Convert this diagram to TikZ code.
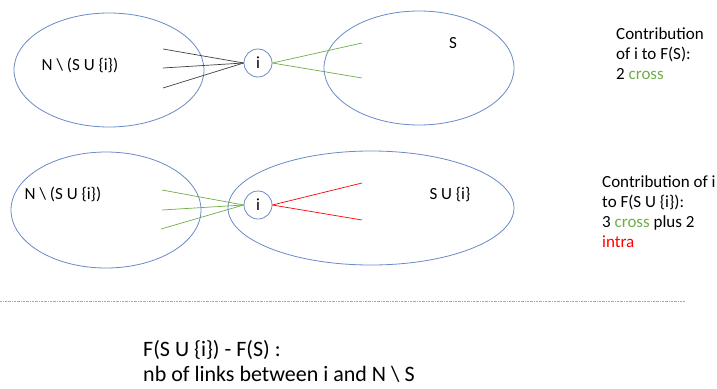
\documentclass[tikz,border=0pt]{standalone}
\usepackage{fontspec}
\setmainfont{Carlito}
\usetikzlibrary{shapes.geometric}
\definecolor{setblue}{HTML}{6A8AC6}
\definecolor{crossgreen}{HTML}{70AD47}
\definecolor{intrared}{HTML}{FF0000}
\definecolor{linkgray}{HTML}{404040}
\definecolor{dotblue}{HTML}{8FAADC}
\begin{document}
\begin{tikzpicture}[x=1pt,y=-1pt,
  setell/.style={draw=setblue,line width=0.8pt,ellipse,inner sep=0pt},
  vertex/.style={draw=setblue,line width=0.8pt,circle,minimum size=28pt,inner sep=0pt,font=\fontsize{17}{20}\selectfont},
  lbl/.style={font=\fontsize{17}{20}\selectfont,inner sep=0pt},
  note/.style={font=\fontsize{17}{20}\selectfont,anchor=base west,inner sep=0pt},
  bignote/.style={font=\fontsize{22}{26}\selectfont,anchor=base west,inner sep=0pt},
  blacklink/.style={draw=linkgray,line width=0.7pt},
  greenlink/.style={draw=crossgreen,line width=0.7pt},
  redlink/.style={draw=intrared,line width=0.7pt}]
\useasboundingbox (0,0) rectangle (717,388);
% top row
\node[setell,minimum width=190pt,minimum height=114pt] (A1) at (109,70) {};
\node[setell,minimum width=190pt,minimum height=114pt] (B1) at (419,68) {};
\node[lbl] (A1t) at (80,65) {N \textbackslash{} (S U \{i\})};
\node[lbl] (B1t) at (453,43) {S};
\node[vertex] (i1) at (258,63) {i};
\coordinate (a1) at (163,49);
\coordinate (a2) at (163,68);
\coordinate (a3) at (163,88);
\coordinate (b1) at (362,43);
\coordinate (b2) at (362,78);
\draw[blacklink] (a1) -- (i1.west);
\draw[blacklink] (a2) -- (i1.west);
\draw[blacklink] (a3) -- (i1.west);
\draw[greenlink] (i1.east) -- (b1);
\draw[greenlink] (i1.east) -- (b2);
\node[note] (n1a) at (616,39) {Contribution};
\node[note] (n1b) at (616,59) {of i to F(S):};
\node[note] (n1c) at (616,79) {2 \textcolor{crossgreen}{cross}};
% second row
\node[setell,minimum width=190pt,minimum height=116pt] (A2) at (106,210) {};
\node[setell,minimum width=286pt,minimum height=114pt] (B2) at (371,208) {};
\node[lbl] (A2t) at (63,194) {N \textbackslash{} (S U \{i\})};
\node[lbl] (B2t) at (450,195) {S U \{i\}};
\node[vertex] (i2) at (258,205) {i};
\coordinate (c1) at (162,190);
\coordinate (c2) at (162,210);
\coordinate (c3) at (161,229);
\coordinate (d1) at (362,183);
\coordinate (d2) at (362,220);
\draw[greenlink] (c1) -- (i2.west);
\draw[greenlink] (c2) -- (i2.west);
\draw[greenlink] (c3) -- (i2.west);
\draw[redlink] (i2.east) -- (d1);
\draw[redlink] (i2.east) -- (d2);
\node[note] (n2a) at (602,187) {Contribution of i};
\node[note] (n2b) at (602,207) {to F(S U \{i\}):};
\node[note] (n2c) at (602,227) {3 \textcolor{crossgreen}{cross} plus 2};
\node[note] (n2d) at (602,247) {\textcolor{intrared}{intra}};
% separator
\coordinate (s1) at (0,301);
\coordinate (s2) at (685,301);
\draw[dotblue,line width=0.7pt,dash pattern=on 2pt off 1pt on 0.5pt off 1pt] (s1) -- (s2);
% bottom text
\node[bignote] (n3a) at (143,356) {F(S U \{i\}) - F(S) :};
\node[bignote] (n3b) at (143,381) {nb of links between i and N \textbackslash{} S};
\end{tikzpicture}
\end{document}
